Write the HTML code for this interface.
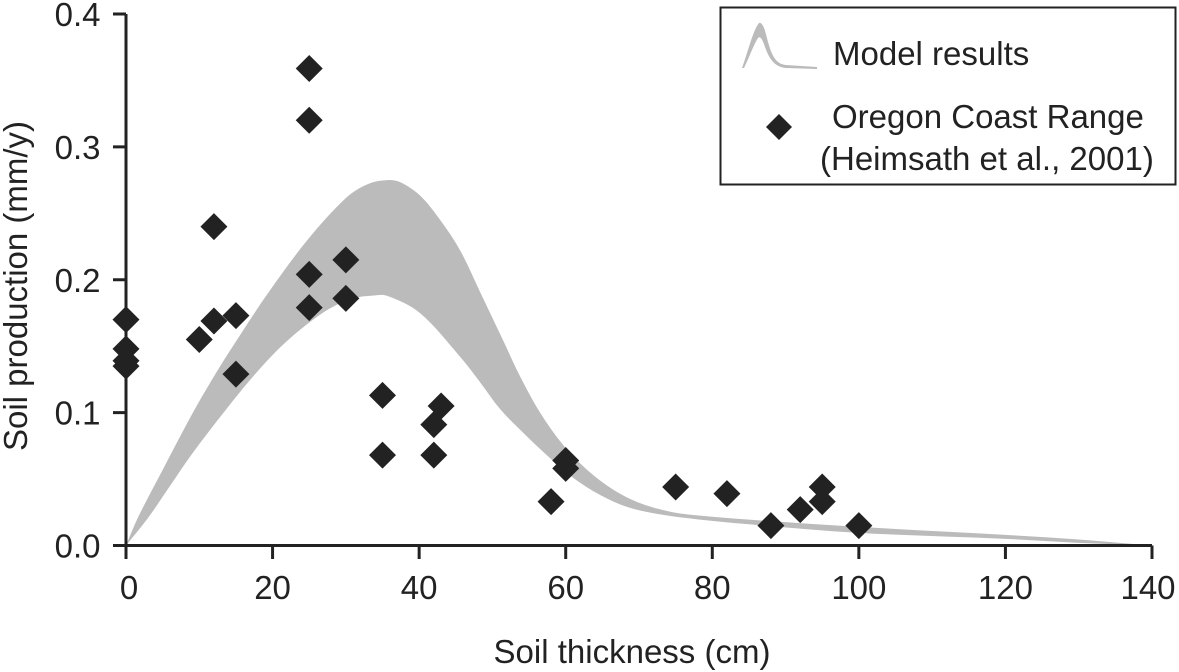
<!DOCTYPE html>
<html lang="en">
<head>
<meta charset="utf-8">
<title>Soil production vs soil thickness</title>
<style>
html,body{margin:0;padding:0;background:#fff;width:1179px;height:672px;overflow:hidden}
svg{display:block}
text{font-family:"Liberation Sans",sans-serif;fill:#222}
</style>
</head>
<body>
<svg id="chart" xmlns="http://www.w3.org/2000/svg" width="1179" height="672" viewBox="0 0 1179 672">
  <g id="band-layer"></g>
  <g id="axis-layer"></g>
  <g id="point-layer"></g>
  <text x="632" y="663" font-size="33" text-anchor="middle">Soil thickness (cm)</text>
  <text transform="translate(27,286) rotate(-90)" font-size="33" text-anchor="middle">Soil production (mm/y)</text>
  <g>
    <rect x="720.5" y="7.5" width="455" height="177" fill="#fff" stroke="#222" stroke-width="2"/>
    <path d="M742 68 C748 52 753 30 759 23 C763 22 765 30 768 42 C772 56 776 64 786 65 L817 67 L817 69 L786 68 C774 67 769 58 765 47 C762 38 760 36 758 38 C753 46 749 58 744 68 Z" fill="#bbb"/>
    <text x="833" y="65" font-size="33">Model results</text>
    <path d="M779 114 L792 127 L779 140 L766 127 Z" fill="#222"/>
    <text x="832" y="128" font-size="33">Oregon Coast Range</text>
    <text x="820" y="170" font-size="33">(Heimsath et al., 2001)</text>
  </g>
</svg>
<script>
const xTicks = [0, 20, 40, 60, 80, 100, 120, 140];
const yTicks = [0.0, 0.1, 0.2, 0.3, 0.4];
const yTickLabels = ["0.0", "0.1", "0.2", "0.3", "0.4"];
const bandUpperX = [0, 1.6, 5.2, 9.1, 12.3, 15, 19.2, 24.7, 30.1, 33, 35.6, 37.4, 40.1, 42.8, 45.6, 48.3, 51.4, 53.8, 56.5, 59.6, 62.9, 66.5, 70.1, 74.6, 78.3, 85, 100, 120, 130, 140];
const bandUpperY = [0, 0.0207, 0.059, 0.0997, 0.130, 0.1535, 0.1885, 0.2295, 0.262, 0.272, 0.275, 0.2735, 0.2635, 0.2455, 0.222, 0.191, 0.155, 0.127, 0.100, 0.076, 0.057, 0.042, 0.032, 0.025, 0.0225, 0.0195, 0.014, 0.008, 0.0045, 0];
const bandLowerX = [0, 3, 5.9, 9.1, 13.6, 18.1, 22.2, 27.4, 31, 33.5, 35.6, 40.1, 45.6, 48.3, 51, 53.8, 57.8, 61, 64.7, 68.4, 72.8, 78.3, 85, 100, 120, 130, 140];
const bandLowerY = [0, 0.0207, 0.044, 0.0696, 0.102, 0.132, 0.155, 0.177, 0.186, 0.188, 0.188, 0.175, 0.142, 0.123, 0.103, 0.087, 0.066, 0.051, 0.038, 0.029, 0.0235, 0.0195, 0.016, 0.0095, 0.005, 0.002, 0];
const pointX = [0, 0, 0, 0, 10, 12, 12, 15, 15, 25, 25, 25, 25, 30, 30, 35, 35, 42, 42, 43, 58, 60, 60, 75, 82, 88, 92, 95, 95, 100];
const pointY = [0.170, 0.148, 0.139, 0.135, 0.155, 0.240, 0.169, 0.173, 0.129, 0.359, 0.320, 0.204, 0.179, 0.215, 0.186, 0.113, 0.068, 0.091, 0.068, 0.105, 0.033, 0.064, 0.058, 0.044, 0.039, 0.015, 0.027, 0.044, 0.033, 0.015];

const NS = "http://www.w3.org/2000/svg";
const sx = v => 126 + v * (1152 - 126) / 140;
const sy = v => 545.5 - v * (545.5 - 14) / 0.4;

function smooth(xs, ys) {
  const p = xs.map((x, i) => [sx(x), sy(ys[i])]);
  const tan = p.map((b, i) => {
    const a = p[Math.max(i - 1, 0)], c = p[Math.min(i + 1, p.length - 1)];
    const dx = c[0] - a[0], dy = c[1] - a[1], len = Math.hypot(dx, dy) || 1;
    return [dx / len, dy / len];
  });
  const segs = [];
  for (let i = 0; i < p.length - 1; i++) {
    const b = p[i], c = p[i + 1], h = Math.hypot(c[0] - b[0], c[1] - b[1]) / 3;
    segs.push([b[0] + tan[i][0] * h, b[1] + tan[i][1] * h, c[0] - tan[i + 1][0] * h, c[1] - tan[i + 1][1] * h, c[0], c[1]]);
  }
  return { start: p[0], segs };
}

const up = smooth(bandUpperX, bandUpperY);
const lowRev = smooth(bandLowerX.slice().reverse(), bandLowerY.slice().reverse());
let d = "M" + up.start.join(" ");
up.segs.forEach(s => { d += " C" + s.join(" "); });
lowRev.segs.forEach(s => { d += " C" + s.join(" "); });
d += " Z";
const band = document.createElementNS(NS, "path");
band.setAttribute("d", d);
band.setAttribute("fill", "#bbb");


document.getElementById("band-layer").appendChild(band);

const axisLayer = document.getElementById("axis-layer");
function line(x1, y1, x2, y2, w) {
  const l = document.createElementNS(NS, "line");
  l.setAttribute("x1", x1);
  l.setAttribute("y1", y1);
  l.setAttribute("x2", x2);
  l.setAttribute("y2", y2);
  l.setAttribute("stroke", "#222");
  l.setAttribute("stroke-width", w);
  axisLayer.appendChild(l);
  return l;
}
function label(x, y, s, anchor) {
  const t = document.createElementNS(NS, "text");
  t.setAttribute("x", x);
  t.setAttribute("y", y);
  t.setAttribute("font-size", "33");
  t.setAttribute("text-anchor", anchor);
  t.textContent = s;
  axisLayer.appendChild(t);
  return t;
}
const xAxis = line(sx(0) - 13, sy(0), sx(140), sy(0), 3);


const yAxis = line(sx(0), sy(0.4), sx(0), sy(0), 3);


xTicks.forEach(v => {
  const tk = line(sx(v), sy(0), sx(v), 559, 3);
  
  
  const lx = Math.min(Math.max(sx(v), 129), 1148);
  const lb = label(lx, 599, String(v), "middle");
  
  
});
yTicks.forEach((v, i) => {
  const tk = line(113, sy(v), sx(0), sy(v), 3);
  
  
  const lb = label(100.5, sy(v) + 12, yTickLabels[i], "end");
  
  
});

const pointLayer = document.getElementById("point-layer");
const R = 13.5;
pointX.forEach((x, i) => {
  const cx = sx(x), cy = sy(pointY[i]);
  const m = document.createElementNS(NS, "path");
  m.setAttribute("d", `M${cx} ${cy - R} L${cx + R} ${cy} L${cx} ${cy + R} L${cx - R} ${cy} Z`);
  m.setAttribute("fill", "#222");
  
  
  pointLayer.appendChild(m);
});
</script>
</body>
</html>
